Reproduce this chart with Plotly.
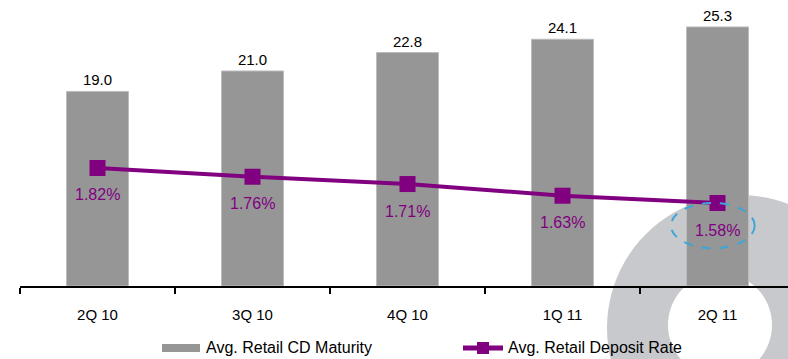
import math
import plotly.graph_objects as go

# ---- data ----
quarters = ["2Q 10", "3Q 10", "4Q 10", "1Q 11", "2Q 11"]
cd_maturity = [19.0, 21.0, 22.8, 24.1, 25.3]
deposit_rate = [1.82, 1.76, 1.71, 1.63, 1.58]
bar_name = "Avg. Retail CD Maturity"
line_name = "Avg. Retail Deposit Rate"

W, H = 788, 359
ML, MR, MT, MB = 20, 0, 0, 73
PW, PH = W - ML - MR, H - MT - MB

BAR_COLOR = "#969696"
LINE_COLOR = "#800080"
FONT = "Liberation Sans, Arial, sans-serif"


def px(x):
    return (x - ML) / PW


def py(y):
    return (MT + PH - y) / PH


def circle_path(cx, cy, r, reverse=False, n=96):
    angs = [2 * math.pi * i / n for i in range(n)]
    if reverse:
        angs = angs[::-1]
    pts = [(px(cx + r * math.cos(a)), py(cy + r * math.sin(a))) for a in angs]
    s = "M{:.5f},{:.5f}".format(*pts[0])
    for p in pts[1:]:
        s += " L{:.5f},{:.5f}".format(*p)
    return s + " Z"


fig = go.Figure()
fig.add_trace(go.Bar(
    x=quarters, y=cd_maturity, name=bar_name,
    marker=dict(color=BAR_COLOR, line=dict(color="#BDBDBD", width=1)),
    width=0.4,
    text=[f"{v:.1f}" for v in cd_maturity], textposition="outside",
    textfont=dict(family=FONT, size=15, color="#000000"),
    cliponaxis=False, showlegend=False, hoverinfo="skip",
))
fig.add_trace(go.Scatter(
    x=quarters, y=deposit_rate, name=line_name, yaxis="y2",
    mode="lines+markers",
    line=dict(color=LINE_COLOR, width=4),
    marker=dict(symbol="square", size=16, color=LINE_COLOR),
    cliponaxis=False, showlegend=False, hoverinfo="skip",
))

shapes = []
# background watermark ring (outer clockwise, inner reversed -> hole)
ring = circle_path(740, 328, 133) + " " + circle_path(720, 325, 52, reverse=True)
shapes.append(dict(type="path", xref="paper", yref="paper", layer="below",
                   path=ring, fillcolor="#C8C9CC", line=dict(width=0)))
# dashed highlight around last rate
last = len(quarters) - 1
shapes.append(dict(type="circle", xref="x", yref="y2",
                   x0=last - 0.30, x1=last + 0.24,
                   y0=deposit_rate[last] - 0.31, y1=deposit_rate[last],
                   line=dict(color="#3DA5D9", width=2, dash="dash")))
# custom legend
shapes.append(dict(type="rect", xref="paper", yref="paper",
                   x0=px(162), x1=px(200), y0=py(352), y1=py(344),
                   fillcolor=BAR_COLOR, line=dict(width=0)))
shapes.append(dict(type="line", xref="paper", yref="paper",
                   x0=px(463), x1=px(503), y0=py(348), y1=py(348),
                   line=dict(color=LINE_COLOR, width=5)))
shapes.append(dict(type="rect", xref="paper", yref="paper",
                   x0=px(477), x1=px(489), y0=py(354), y1=py(342),
                   fillcolor=LINE_COLOR, line=dict(width=0)))

annotations = [
    dict(xref="paper", yref="paper", x=px(204), y=py(348), text=bar_name,
         showarrow=False, xanchor="left", yanchor="middle",
         font=dict(family=FONT, size=16, color="#000000")),
    dict(xref="paper", yref="paper", x=px(506), y=py(348), text=line_name,
         showarrow=False, xanchor="left", yanchor="middle",
         font=dict(family=FONT, size=16, color="#000000")),
]
for q, v in zip(quarters, deposit_rate):
    annotations.append(dict(
        xref="x", yref="y2", x=q, y=v, text=f"{v:.2f}%", showarrow=False,
        xanchor="center", yanchor="middle", yshift=-27,
        font=dict(family=FONT, size=16, color=LINE_COLOR)))

y_max = PH / 10.24
y2_min = (433.7 - PH) / 146.0
y2_max = 433.7 / 146.0

fig.update_layout(
    width=W, height=H,
    margin=dict(l=ML, r=MR, t=MT, b=MB),
    paper_bgcolor="white", plot_bgcolor="rgba(0,0,0,0)",
    showlegend=False,
    xaxis=dict(
        type="category", range=[-0.5, -0.5 + PW / 155.0],
        showline=True, linecolor="#000000", linewidth=2,
        ticks="outside", tickson="boundaries", ticklen=6, tickwidth=2,
        tickcolor="#000000", showgrid=False, zeroline=False,
        tickfont=dict(family=FONT, size=15, color="#000000"),
        ticklabelstandoff=14,
    ),
    yaxis=dict(range=[0, y_max], visible=False, showgrid=False),
    yaxis2=dict(range=[y2_min, y2_max], overlaying="y", visible=False,
                showgrid=False),
    shapes=shapes,
    annotations=annotations,
    bargap=0.6,
)

fig.write_html("out.html")
